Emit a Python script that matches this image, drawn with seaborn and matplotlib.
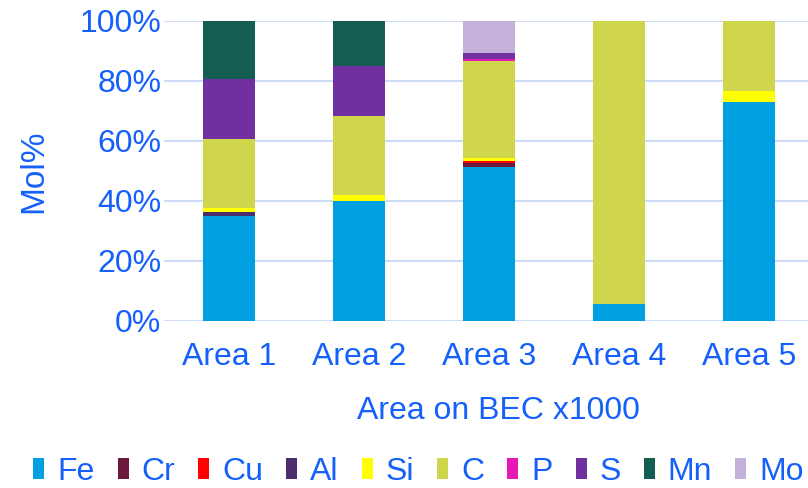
import matplotlib
matplotlib.use("Agg")
import matplotlib.pyplot as plt
from matplotlib.patches import Patch
from matplotlib.ticker import PercentFormatter
import numpy as np
import pandas as pd
import seaborn as sns

# Composition (mol%) of each analysed area, element by element
areas = ["Area 1", "Area 2", "Area 3", "Area 4", "Area 5"]
elements = ["Fe", "Cr", "Cu", "Al", "Si", "C", "P", "S", "Mn", "Mo"]
fe = [35.0, 40.0, 51.4, 5.7, 73.0]
cr = [0.0, 0.0, 1.3, 0.0, 0.0]
cu = [0.0, 0.0, 0.7, 0.0, 0.0]
al = [1.2, 0.0, 0.0, 0.0, 0.0]
si = [1.5, 1.9, 0.8, 0.0, 3.8]
c = [23.0, 26.4, 32.5, 94.3, 23.2]
p = [0.0, 0.0, 0.7, 0.0, 0.0]
s = [20.0, 16.7, 1.9, 0.0, 0.0]
mn = [19.3, 15.0, 0.0, 0.0, 0.0]
mo = [0.0, 0.0, 10.7, 0.0, 0.0]
yticks = [0, 20, 40, 60, 80, 100]

colors = {
    "Fe": "#009fdf", "Cr": "#6b1a3c", "Cu": "#ff0000", "Al": "#4b2e6b",
    "Si": "#ffff00", "C": "#cfd64b", "P": "#e619b4", "S": "#7030a0",
    "Mn": "#135e50", "Mo": "#c3b1d9",
}
text_color = "#1560fb"
grid_color = "#cfdcf7"
fs = 23

df = pd.DataFrame(
    {"Area": areas, "Fe": fe, "Cr": cr, "Cu": cu, "Al": al, "Si": si,
     "C": c, "P": p, "S": s, "Mn": mn, "Mo": mo}
)

sns.set_theme(style="white")
plt.rcParams["font.family"] = ["Liberation Sans", "DejaVu Sans"]

fig = plt.figure(figsize=(8.08, 4.88), dpi=100)
ax = fig.add_axes([164 / 808, 167 / 488, 650 / 808, 300 / 488])

bottom = np.zeros(len(areas))
for el in elements:
    sns.barplot(data=df, x="Area", y=el, color=colors[el], bottom=bottom,
                width=0.4, ax=ax, saturation=1, linewidth=0, zorder=3)
    bottom = bottom + df[el].to_numpy()

ax.set_ylim(0, 100)
ax.set_xlim(-0.5, 4.5)
ax.set_yticks(yticks)
ax.yaxis.set_major_formatter(PercentFormatter(decimals=0))
ax.grid(axis="y", color=grid_color, linewidth=1.5, zorder=0)
ax.grid(axis="x", visible=False)
for side in ["top", "right", "left", "bottom"]:
    ax.spines[side].set_visible(False)
ax.tick_params(axis="both", length=0, labelsize=fs, colors=text_color)
ax.tick_params(axis="x", pad=15)
ax.tick_params(axis="y", pad=2)

ax.set_ylabel("Mol%", fontsize=fs + 1, color=text_color, labelpad=22)
ax.set_xlabel("Area on BEC x1000", fontsize=fs, color=text_color, labelpad=16)
ax.xaxis.set_label_coords(0.515, -0.25)

handles = [Patch(facecolor=colors[el], edgecolor="none", label=el) for el in elements]
fig.legend(handles=handles, loc="center", bbox_to_anchor=(0.518, 0.033), ncol=10,
           frameon=False, fontsize=fs, labelcolor=text_color,
           handlelength=0.35, handleheight=0.63, handletextpad=0.4,
           columnspacing=0.72, borderaxespad=0)

fig.savefig("out.png", dpi=100)
